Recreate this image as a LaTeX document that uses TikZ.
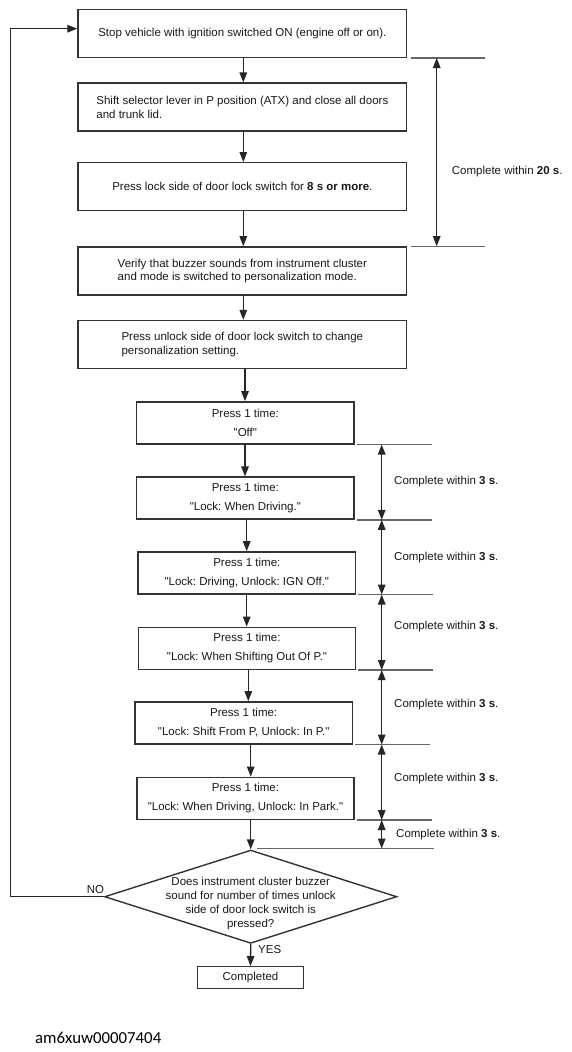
\documentclass[tikz,border=0pt]{standalone}
\usepackage{fontspec}
\setmainfont{Liberation Sans}
\newfontfamily\plainq{Liberation Sans}
\newfontfamily\capfont{Carlito}
\usetikzlibrary{arrows.meta,shapes.geometric}
\newcommand{\myq}{{\plainq\symbol{34}}}
\frenchspacing
\begin{document}
\begin{tikzpicture}[x=1pt,y=-1pt,
  every node/.style={font=\fontsize{11.5}{13.5}\selectfont, text=black!90},
  bigbox/.style={draw=black!80,line width=1.4pt,minimum width=328.7pt,minimum height=48pt,inner sep=0pt,align=left},
  pbox/.style={draw=black!80,line width=1.4pt,minimum width=217.3pt,minimum height=42pt,inner sep=0pt,align=center,font=\fontsize{11.5}{19}\selectfont},
  arr/.style={draw=black!85,line width=1.3pt,-{Triangle[length=10pt,width=7.5pt]}},
  dimarr/.style={draw=black!85,line width=1.3pt,{Triangle[length=10pt,width=7.5pt]}-{Triangle[length=10pt,width=7.5pt]}},
  dimline/.style={draw=black!60,line width=1.3pt},
  dimtxt/.style={anchor=west,inner sep=0pt}
]
\fill[white] (0,0) rectangle (572,1052);
\useasboundingbox (0,0) rectangle (572,1052);

% main boxes
\node[bigbox] (b1) at (242.35,33.3) {Stop vehicle with ignition switched ON (engine off or on).};
\node[bigbox] (b2) at (242.35,107.15) {Shift selector lever in P position (ATX) and close all doors\\and trunk lid.};
\node[bigbox] (b3) at (242.35,186.7) {Press lock side of door lock switch for \textbf{8 s or more}.};
\node[bigbox] (b4) at (242.35,270.85) {Verify that buzzer sounds from instrument cluster\\and mode is switched to personalization mode.};
\node[bigbox] (b5) at (242.35,344.5) {Press unlock side of door lock switch to change\\personalization setting.};

\node[pbox] (p1) at (245.35,422.85) {Press 1 time:\\\myq Off\myq};
\node[pbox] (p2) at (245.35,498.15) {Press 1 time:\\\myq Lock: When Driving.\myq};
\node[pbox] (p3) at (246.8,572.85) {Press 1 time:\\\myq Lock: Driving, Unlock: IGN Off.\myq};
\node[pbox] (p4) at (247,648.3) {Press 1 time:\\\myq Lock: When Shifting Out Of P.\myq};
\node[pbox] (p5) at (243.65,722.85) {Press 1 time:\\\myq Lock: Shift From P, Unlock: In P.\myq};
\node[pbox] (p6) at (245.5,798.3) {Press 1 time:\\\myq Lock: When Driving, Unlock: In Park.\myq};

\node[diamond,draw=black!80,line width=1.4pt,minimum width=292.3pt,minimum height=93.3pt,inner sep=0pt] (d) at (250.7,896.7) {};
\node[align=center,inner sep=0pt,font=\fontsize{11.5}{14}\selectfont] (dt) at (250.7,903.5) {Does instrument cluster buzzer\\sound for number of times unlock\\side of door lock switch is\\pressed?};

\node[draw=black!80,line width=1.4pt,minimum width=105.6pt,minimum height=21.6pt,inner sep=0pt] (c) at (250.5,977.5) {Completed};

% column coordinates for arrows
\coordinate (ca) at (243.3,0);
\coordinate (cb) at (245,0);
\coordinate (cc) at (246.7,0);
\coordinate (cd) at (248.3,0);

\draw[arr] (b1.south -| ca) -- (b2.north -| ca);
\draw[arr] (b2.south -| ca) -- (b3.north -| ca);
\draw[arr] (b3.south -| ca) -- (b4.north -| ca);
\draw[arr] (b4.south -| ca) -- (b5.north -| ca);
\draw[arr] (b5.south -| cb) -- (p1.north -| cb);
\draw[arr] (p1.south -| cb) -- (p2.north -| cb);
\draw[arr] (p2.south -| cc) -- (p3.north -| cc);
\draw[arr] (p3.south -| cc) -- (p4.north -| cc);
\draw[arr] (p4.south -| cd) -- (p5.north -| cd);
\draw[arr] (p5.south -| d.north) -- (p6.north -| d.north);
\draw[arr] (p6.south -| d.north) -- (d.north);
\draw[arr] (d.south) -- (c.north);

% loop back
\coordinate (lc) at (10.7,28.7);
\draw[arr] (d.west) -| (lc) -- (b1.west |- lc);
\node[inner sep=0pt] (no) at (95.5,889.3) {NO};
\node[inner sep=0pt] (yes) at (269.7,950) {YES};

% top dimension
\draw[dimline] ([xshift=4pt]b1.south east) -- ++(74,0);
\draw[dimline] ([xshift=4pt]b4.north east) -- ++(74,0);
\coordinate (tdx) at (436.7,0);
\draw[dimarr] (b1.south -| tdx) -- (b4.north -| tdx);
\node[dimtxt] (t20) at (451.7,171.7) {Complete within \textbf{20 s}.};

% lower dimensions
\foreach \n in {p1,p2,p3,p4,p5,p6}{
  \draw[dimline] ([xshift=2pt]\n.south east) -- ++(75,0);
}
\coordinate (bl) at (256.7,848.5);
\coordinate (br) at (434,848.5);
\draw[dimline] (bl) -- (br);
\coordinate (ldx) at (381.7,0);
\draw[dimarr] (p1.south -| ldx) -- (p2.south -| ldx);
\draw[dimarr] (p2.south -| ldx) -- (p3.south -| ldx);
\draw[dimarr] (p3.south -| ldx) -- (p4.south -| ldx);
\draw[dimarr] (p4.south -| ldx) -- (p5.south -| ldx);
\draw[dimarr] (p5.south -| ldx) -- (p6.south -| ldx);
\draw[dimarr] (p6.south -| ldx) -- (bl -| ldx);
\node[dimtxt] (t1) at (394,481.7) {Complete within \textbf{3 s}.};
\node[dimtxt] (t2) at (394,557.3) {Complete within \textbf{3 s}.};
\node[dimtxt] (t3) at (394,627) {Complete within \textbf{3 s}.};
\node[dimtxt] (t4) at (394,705) {Complete within \textbf{3 s}.};
\node[dimtxt] (t5) at (394,778.3) {Complete within \textbf{3 s}.};
\node[dimtxt] (t6) at (396,835) {Complete within \textbf{3 s}.};

\node[anchor=west,inner sep=0pt,text=black,font=\capfont\fontsize{16.8}{20}\selectfont] (cap) at (35,1038) {am6xuw00007404};
\end{tikzpicture}
\end{document}
